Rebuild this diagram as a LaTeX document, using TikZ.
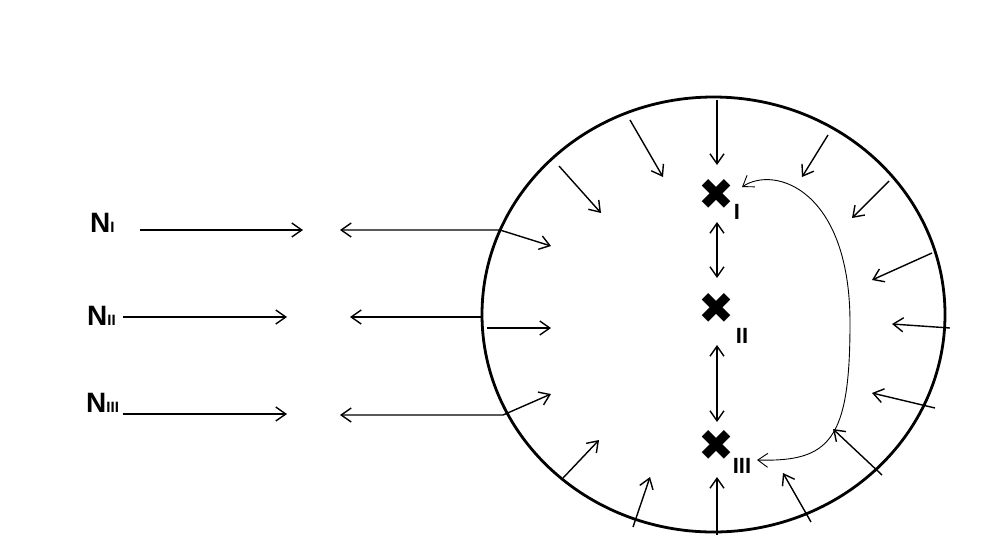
\documentclass[tikz,border=0pt]{standalone}
\usepackage{fontspec}
\setmainfont{Liberation Sans}
\newfontfamily\symfont{DejaVu Sans}
\usetikzlibrary{arrows.meta,shapes.geometric}

% small subscript numerals
\newcommand\subnum[1]{{\fontsize{15}{15}\selectfont #1}}

\begin{document}
\begin{tikzpicture}[x=1pt,y=-1pt,
  barb/.tip={Straight Barb[length=10pt,width=14pt]},
  flow/.style={line width=1.4pt,-barb},
  both/.style={line width=1.4pt,barb-barb},
  back/.style={line width=1.4pt,barb-},
  loopline/.style={line width=0.9pt,barb-barb},
  lab/.style={font=\bfseries\fontsize{28}{28}\selectfont,inner sep=0pt,anchor=base west},
  site/.style={font=\symfont\fontsize{43}{43}\selectfont,inner sep=0pt},
  num/.style={font=\bfseries\fontsize{22}{22}\selectfont,inner sep=0pt}
]
\useasboundingbox (0,0) rectangle (981,558);

% the cell
\node[draw,ellipse,line width=2.8pt,minimum width=463pt,minimum height=435pt,inner sep=0pt]
  (cell) at (713.5,314.5) {};

% labels on the left
\node[lab] (nI)   at (90,232) {N\subnum{I}};
\node[lab] (nII)  at (87,325) {N\subnum{II}};
\node[lab] (nIII) at (86,412) {N\subnum{III}};

% arrow ends outside the cell
\coordinate (aI)   at (140,230); \coordinate (bI)   at (303,230);
\coordinate (aII)  at (123,317); \coordinate (bII)  at (287,317);
\coordinate (aIII) at (123,414); \coordinate (bIII) at (287,414);
\coordinate (cI)   at (340,230); \coordinate (kI)   at (500,230); \coordinate (dI)   at (551,246);
\coordinate (cII)  at (350,317); \coordinate (kII)  at (481,317);
\coordinate (cIII) at (340,415); \coordinate (kIII) at (503,415); \coordinate (dIII) at (551,394);

\draw[flow] (aI) -- (bI);
\draw[flow] (aII) -- (bII);
\draw[flow] (aIII) -- (bIII);
\draw[both] (cI) -- (kI) -- (dI);
\draw[back] (cII) -- (kII);
\draw[both] (cIII) -- (kIII) -- (dIII);

% arrows pointing inward from the border
\foreach \sx/\sy/\ex/\ey in {
  717/100/717/165, 630/120/663/177, 559/166/601/213, 487/328/551/328,
  563/478/599/440, 633/527/650/477, 717/535/717/477, 811/522/783/473,
  882/475/833/429, 935/408/872/393, 950/328/892/324, 932/253/872/280,
  889/181/852/218, 828/135/802/177}
  \draw[flow] (\sx,\sy) -- (\ex,\ey);

% the three sites
\node[site] (xI)   at (717,194) {✖};
\node[site] (xII)  at (717,308) {✖};
\node[site] (xIII) at (717,445) {✖};
\node[num] (sI)   at (737,212) {I};
\node[num] (sII)  at (742,336) {II};
\node[num] (sIII) at (742,466) {III};

% exchange between neighbouring sites
\coordinate (uI)   at (717,222); \coordinate (uII)  at (717,278);
\coordinate (vII)  at (717,345); \coordinate (vIII) at (717,422);
\draw[both] (uI) -- (uII);
\draw[both] (vII) -- (vIII);

% return loop from III back to I
\coordinate (lI) at (742,187); \coordinate (lIII) at (757,460);
\draw[loopline] (lI) .. controls (775,165) and (850,190) .. (850,323)
  .. controls (850,440) and (830,462) .. (lIII);
\end{tikzpicture}
\end{document}
